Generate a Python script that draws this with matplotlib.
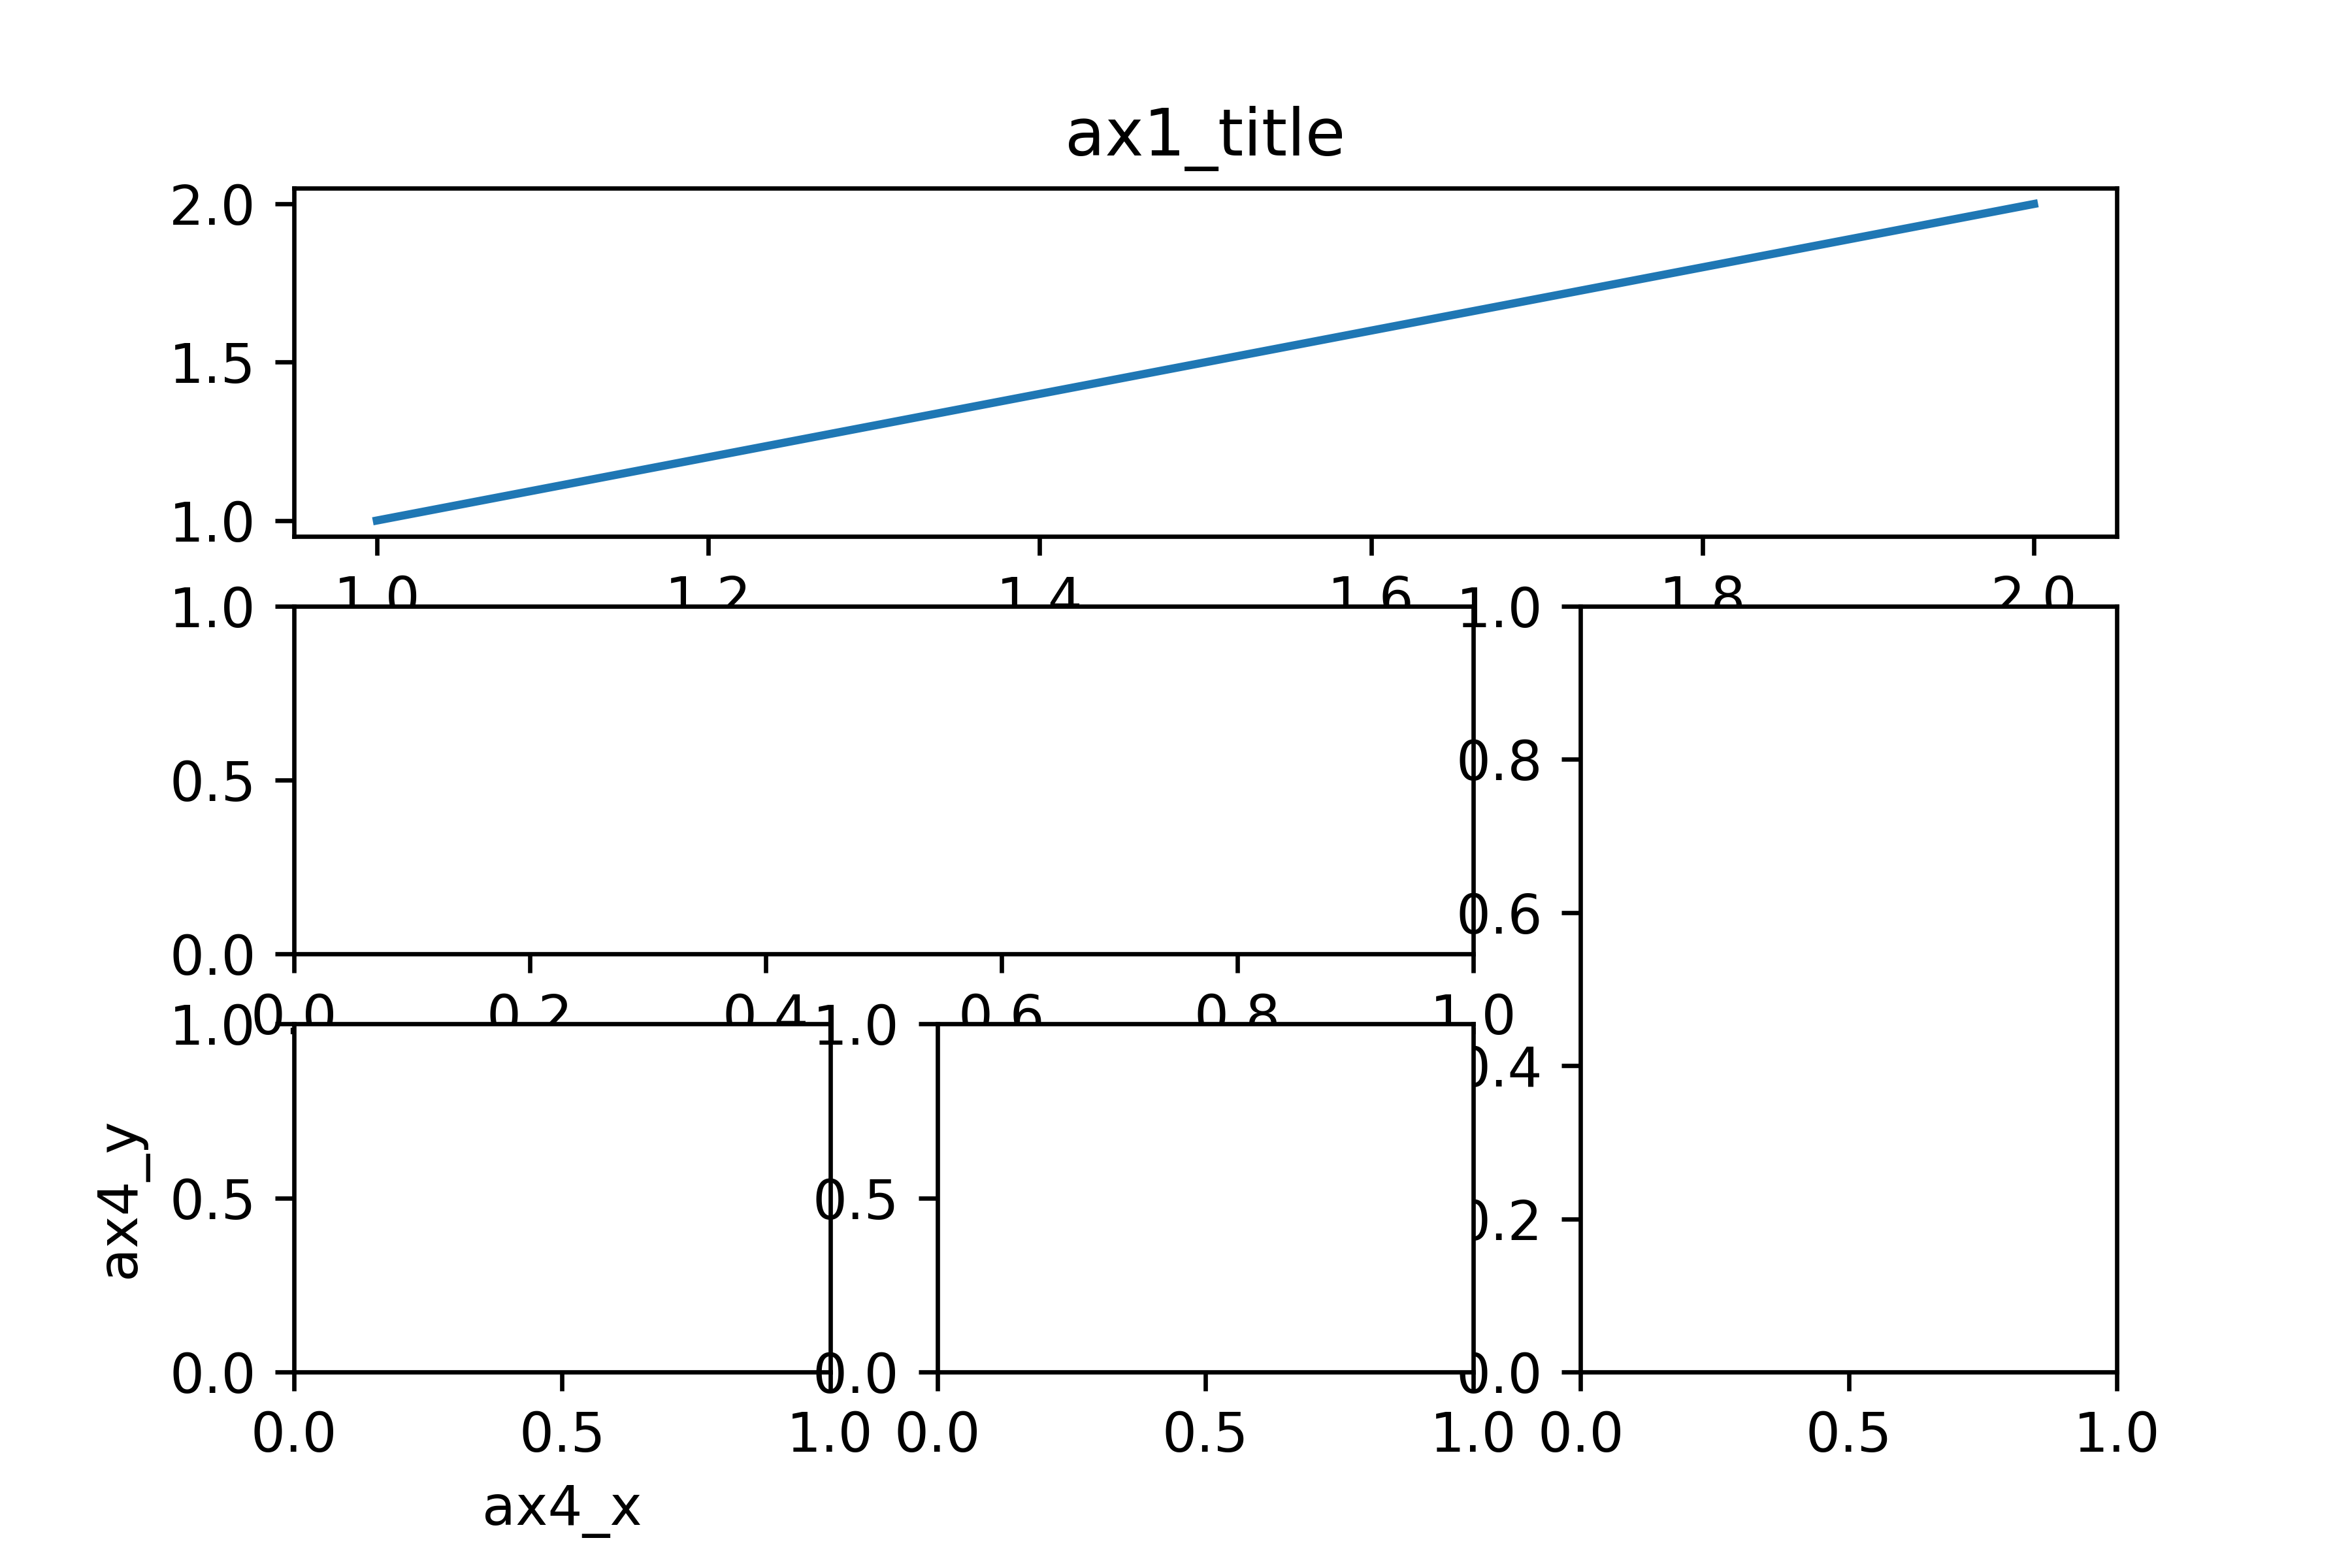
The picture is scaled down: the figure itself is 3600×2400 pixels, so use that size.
import matplotlib
matplotlib.use('Agg')
import matplotlib.pyplot as plt

# Данные для верхнего графика
x_vals = [1, 2]
y_vals = [1, 2]

fig = plt.figure(figsize=(6, 4), dpi=600)
fig.subplots_adjust(left=0.125, right=0.9, bottom=0.125, top=0.88,
                    wspace=0.2, hspace=0.2)

ax1 = plt.subplot2grid((3, 3), (0, 0), colspan=3, rowspan=1)
ax1.plot(x_vals, y_vals)
ax1.set_title('ax1_title')

ax2 = plt.subplot2grid((3, 3), (1, 0), colspan=2)
ax3 = plt.subplot2grid((3, 3), (1, 2), rowspan=2)
ax4 = plt.subplot2grid((3, 3), (2, 0))
ax5 = plt.subplot2grid((3, 3), (2, 1))

ax4.set_xlabel('ax4_x')
ax4.set_ylabel('ax4_y')

plt.savefig('out.png')
